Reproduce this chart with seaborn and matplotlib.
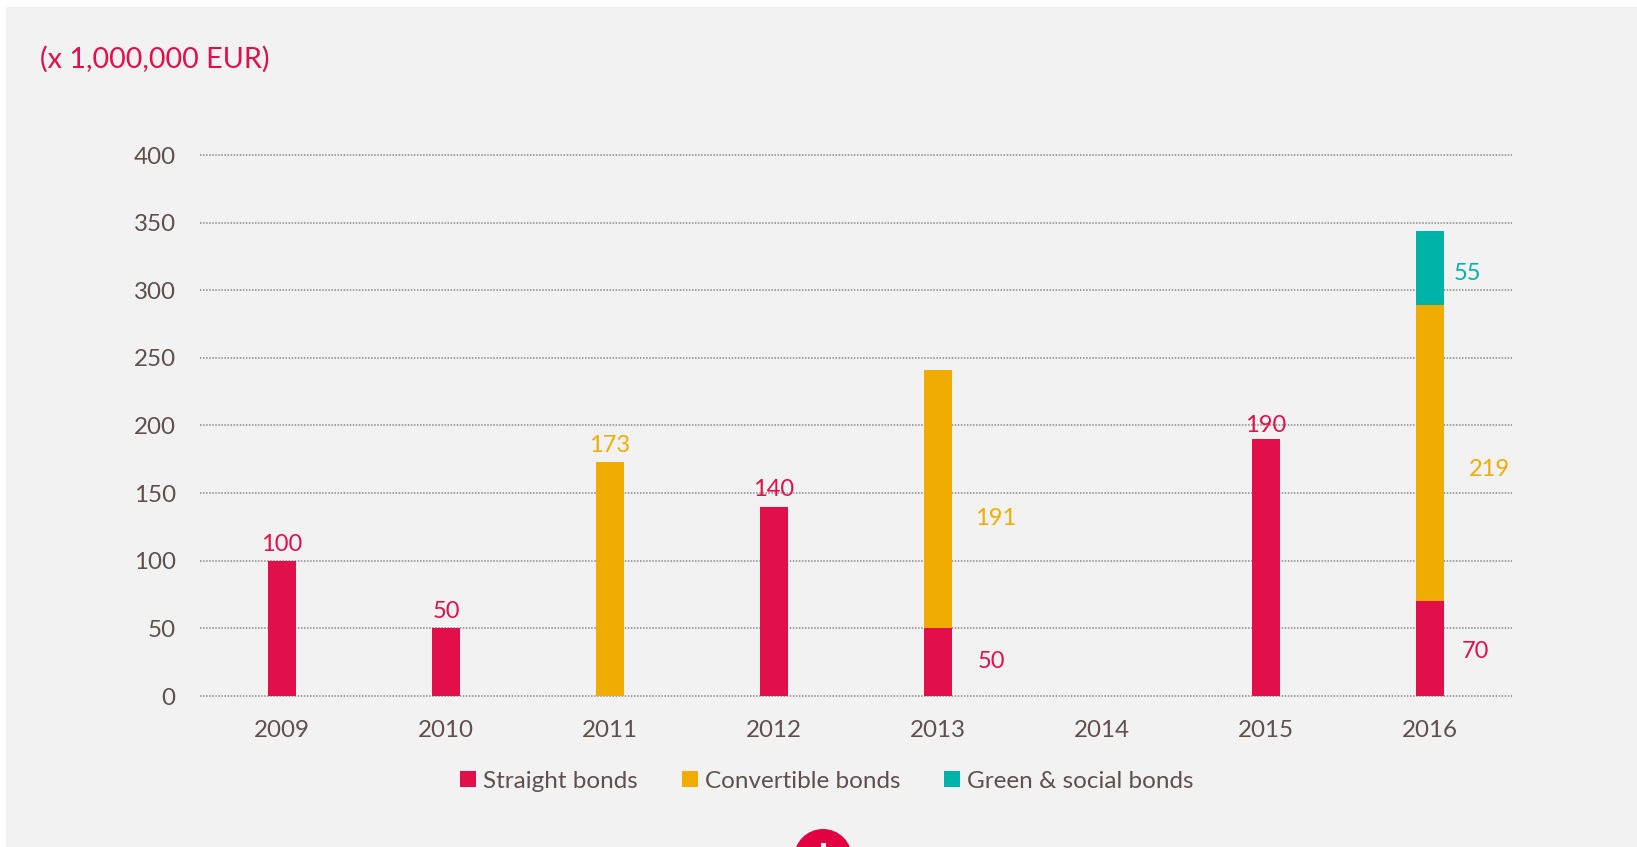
import matplotlib
matplotlib.use("Agg")
import matplotlib.pyplot as plt
from matplotlib.patches import Circle, Rectangle
import pandas as pd
import seaborn as sns

years = ["2009", "2010", "2011", "2012", "2013", "2014", "2015", "2016"]
straight = [100, 50, 0, 140, 50, 0, 190, 70]
convertible = [0, 0, 173, 0, 191, 0, 0, 219]
green_social = [0, 0, 0, 0, 0, 0, 0, 55]
y_ticks = [0, 50, 100, 150, 200, 250, 300, 350, 400]
unit_label = "(x 1,000,000 EUR)"

RED = "#e30f4b"
AMBER = "#f0ac00"
TEAL = "#00b3a9"
TEXT = "#5f504c"
PANEL = "#f2f2f2"

sns.set_theme(style="white")
plt.rcParams["font.family"] = ["Lato", "DejaVu Sans"]

W, H = 1637, 847
fig = plt.figure(figsize=(W / 100, H / 100), dpi=100, facecolor="white")
fig.add_artist(Rectangle((6 / W, 0), 1 - 6 / W, 1 - 7 / H, transform=fig.transFigure,
                         facecolor=PANEL, edgecolor="none", zorder=-5))

ax = fig.add_axes([200 / W, (H - 696) / H, 1312 / W, 541 / H])
ax.set_facecolor("none")

df = pd.DataFrame({"year": years, "straight": straight,
                   "convertible": convertible, "green": green_social})

# Stack the three bond types by passing the running total as the bar base
base = pd.Series([0] * len(df))
series = [("straight", "Straight bonds", RED),
          ("convertible", "Convertible bonds", AMBER),
          ("green", "Green & social bonds", TEAL)]
for col, name, colour in series:
    sns.barplot(data=df, x="year", y=col, bottom=base.values, color=colour, saturation=1,
                width=0.17, linewidth=0, label=name, legend=False, ax=ax, zorder=3)
    base = base + df[col]

ax.set_xlim(-0.5, 7.5)
ax.set_ylim(0, 400)
ax.set_yticks(y_ticks)
ax.set_xlabel("")
ax.set_ylabel("")
ax.grid(False)
for y in y_ticks:
    ax.axhline(y, color="#8a8a8a", lw=1.1, ls=(0, (1, 1)), zorder=1, clip_on=False)
sns.despine(ax=ax, left=True, bottom=True)
ax.tick_params(axis="both", length=0, labelsize=17.4, labelcolor=TEXT)
ax.tick_params(axis="x", pad=17.5)
ax.tick_params(axis="y", pad=17.5)

LABEL_SIZE = 17


def note(i, value, colour, dx, dy):
    """Value label anchored on a bar position with a pixel offset."""
    ax.annotate(str(value), (i, 0), xycoords=ax.get_xaxis_transform(),
                xytext=(dx * 0.72, dy * 0.72), textcoords="offset points",
                ha="center", va="center", color=colour, fontsize=LABEL_SIZE, zorder=5)


def top_label(i, value, colour, lift=12):
    ax.annotate(str(value), (i, value), xytext=(0, lift), textcoords="offset points",
                ha="center", va="center", color=colour, fontsize=LABEL_SIZE, zorder=5)


top_label(0, straight[0], RED)
top_label(1, straight[1], RED)
top_label(3, straight[3], RED)
top_label(6, straight[6], RED, lift=9.8)
top_label(2, convertible[2], AMBER)

note(4, convertible[4], AMBER, 58, 178)
note(4, straight[4], RED, 53.5, 35)
note(7, green_social[7], TEAL, 37, 423)
note(7, convertible[7], AMBER, 59, 227)
note(7, straight[7], RED, 45, 45)

fig.text(40 / W, 1 - 59 / H, unit_label, color=RED, fontsize=20.7, ha="left", va="center")

handles, labels = ax.get_legend_handles_labels()
fig.legend(handles, labels, loc="center", bbox_to_anchor=(827 / W, 1 - 781 / H), ncol=3,
           frameon=False, fontsize=17.5, labelcolor=TEXT, handlelength=0.65, handleheight=0.65,
           handletextpad=0.3, columnspacing=1.8)

# Expand button cut off by the lower edge
fig.add_artist(Circle((8.23, (H - 858) / 100), 0.29, transform=fig.dpi_scale_trans,
                      facecolor="#e30042", edgecolor="none"))
fig.add_artist(Rectangle((8.205, 0), 0.05, (H - 843) / 100, transform=fig.dpi_scale_trans,
                         facecolor="#f2f2f2", edgecolor="none"))

fig.savefig("out.png", dpi=100, facecolor=fig.get_facecolor())
